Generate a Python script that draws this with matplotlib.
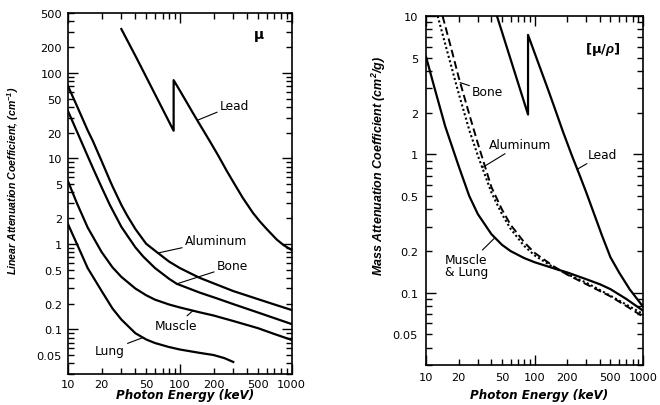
import numpy as np
import matplotlib
matplotlib.use('Agg')
import matplotlib.pyplot as plt

plt.rcParams['font.family'] = ['DejaVu Sans']
plt.rcParams['mathtext.fontset'] = 'custom'
plt.rcParams['mathtext.rm'] = 'Liberation Sans:bold:italic'
plt.rcParams['mathtext.it'] = 'Liberation Sans:bold:italic'
plt.rcParams['mathtext.bf'] = 'Liberation Sans:bold'

# Linear attenuation coefficient (cm^-1), left panel
lead_e = [30, 41, 88, 88, 100, 131, 150, 185, 220, 263, 300, 365, 450, 518, 600, 735, 850, 1000]
lead_mu = [325, 149, 21, 82, 62, 33.8, 25.1, 15.9, 10.8, 7.1, 5.3, 3.45, 2.3, 1.83, 1.48, 1.12, 0.96, 0.845]
al_e = [10, 12, 15, 16.7, 20, 23.7, 25, 30, 33.6, 40, 50, 60, 80, 100, 150, 200, 300, 500, 700, 1000]
al_mu = [70, 41.2, 21.2, 15.9, 9.25, 5.5, 4.7, 2.85, 2.17, 1.49, 1.0, 0.83, 0.62, 0.52, 0.40,
         0.345, 0.28, 0.225, 0.195, 0.168]
bone_e = [10, 12, 15, 16.7, 20, 23.7, 30, 33.6, 40, 47, 60, 80, 94, 150, 214, 300, 500, 700, 1000]
bone_mu = [35.7, 20.7, 10.6, 7.7, 4.57, 2.84, 1.58, 1.27, 0.91, 0.71, 0.52, 0.39, 0.34, 0.269,
           0.23, 0.197, 0.157, 0.135, 0.115]
muscle_e = [10, 12, 15, 20, 25, 30, 40, 50, 60, 80, 100, 150, 200, 300, 500, 700, 1000]
muscle_mu = [5.4, 3.0, 1.55, 0.80, 0.53, 0.41, 0.30, 0.25, 0.222, 0.195, 0.18, 0.158, 0.145,
             0.125, 0.103, 0.088, 0.075]
lung_e = [10, 12, 15, 20, 25, 30, 40, 50, 60, 80, 100, 150, 200, 250, 300]
lung_mu = [1.7, 1.0, 0.52, 0.28, 0.175, 0.13, 0.09, 0.076, 0.069, 0.062, 0.058, 0.053, 0.05,
           0.046, 0.0415]

# Mass attenuation coefficient (cm^2/g), right panel
lead2_e = [45, 87, 87, 100, 130, 150, 183, 220, 263, 300, 419, 500, 600, 750, 1000]
lead2_mr = [10, 1.94, 7.3, 5.41, 3.09, 2.26, 1.45, 0.985, 0.69, 0.527, 0.257, 0.18, 0.14, 0.106, 0.079]
al2_e = [12.8, 15, 20, 25, 30, 40, 50, 60, 80, 100, 150, 200, 300, 500, 700, 1000]
al2_mr = [10, 6.3, 2.75, 1.5, 0.98, 0.53, 0.37, 0.29, 0.218, 0.186, 0.152, 0.136, 0.118, 0.095, 0.082, 0.070]
bone2_e = [14.2, 17, 20, 25, 30, 40, 50, 60, 80, 100, 150, 200, 300, 500, 700, 1000]
bone2_mr = [10, 5.9, 3.6, 1.95, 1.2, 0.58, 0.40, 0.31, 0.232, 0.194, 0.155, 0.135, 0.115, 0.094, 0.08, 0.067]
ml2_e = [10, 12, 15, 20, 25, 30, 40, 50, 60, 80, 100, 150, 200, 300, 400, 500, 700, 1000]
ml2_mr = [5.07, 3.0, 1.6, 0.82, 0.5, 0.37, 0.265, 0.222, 0.2, 0.178, 0.166, 0.15, 0.14, 0.125,
          0.115, 0.106, 0.09, 0.074]

xt_major = [10, 100, 1000]
xt_minor = [20, 30, 40, 50, 60, 70, 80, 90, 200, 300, 400, 500, 600, 700, 800, 900]
xt_minor_lab = ['20', '', '', '50', '', '', '', '', '200', '', '', '500', '', '', '', '']

fig = plt.figure(figsize=(6.6, 4.06), dpi=100)
ax1 = fig.add_axes([0.103, 0.0764, 0.339, 0.889])
ax2 = fig.add_axes([0.6455, 0.0985, 0.329, 0.8596])

lw = 1.6
ax1.plot(lead_e, lead_mu, color='black', lw=lw)
ax1.plot(al_e, al_mu, color='black', lw=lw)
ax1.plot(bone_e, bone_mu, color='black', lw=lw)
ax1.plot(muscle_e, muscle_mu, color='black', lw=lw)
ax1.plot(lung_e, lung_mu, color='black', lw=lw)

ax2.plot(lead2_e, lead2_mr, color='black', lw=lw)
ax2.plot(ml2_e, ml2_mr, color='black', lw=lw)
ax2.plot(al2_e, al2_mr, color='black', lw=1.5, linestyle=(0, (1, 1.2)))
ax2.plot(bone2_e, bone2_mr, color='black', lw=1.4, linestyle=(0, (4, 2)))


def setup(ax, ylim, xpad, ypad):
    ax.set_xscale('log')
    ax.set_yscale('log')
    ax.set_xlim(10, 1000)
    ax.set_ylim(*ylim)
    ax.set_xticks(xt_major, ['10', '100', '1000'])
    ax.set_xticks(xt_minor, xt_minor_lab, minor=True)
    dec = [d for d in [0.01, 0.1, 1, 10, 100, 1000] if ylim[0] <= d <= ylim[1]]
    ax.set_yticks(dec, ['%g' % d for d in dec])
    mins = []
    labs = []
    for d in [0.01, 0.1, 1, 10, 100]:
        for k in range(2, 10):
            v = d * k
            if ylim[0] <= v <= ylim[1] * 1.001:
                mins.append(v)
                labs.append('%g' % v if k in (2, 5) else '')
    ax.set_yticks(mins, labs, minor=True)
    ax.tick_params(which='both', direction='in', top=True, right=True,
                   labelsize=8.2, width=1.0)
    ax.tick_params(which='major', length=7)
    ax.tick_params(which='minor', length=4)
    ax.tick_params(axis='x', which='both', pad=xpad)
    ax.tick_params(axis='y', which='both', pad=ypad)
    for s in ax.spines.values():
        s.set_linewidth(1.2)
    ax.set_xlabel('Photon Energy (keV)', fontsize=8.6, fontweight='bold',
                  fontstyle='italic')


setup(ax1, (0.03, 500), 3.5, 4.3)
setup(ax2, (0.03, 10), 5, 5.8)

ax1.xaxis.set_label_coords(0.522, -0.04)
ax2.xaxis.set_label_coords(0.52, -0.066)

ax1.set_ylabel('Linear Attenuation Coefficient, (cm$^{-1}$)', fontsize=7.6,
               family='Liberation Sans', fontweight='bold', fontstyle='italic')
ax2.set_ylabel('Mass Attenuation Coefficient (cm$^{2}$/g)', fontsize=9,
               family='Liberation Sans', fontweight='bold', fontstyle='italic')
ax1.yaxis.set_label_coords(-0.21, 0.537)
ax2.yaxis.set_label_coords(-0.175, 0.573)

lab = dict(fontsize=8.8, va='center', ha='left')
arr = dict(arrowstyle='-', color='black', lw=0.8, shrinkA=0, shrinkB=0)

ax1.text(507, 284, 'μ', fontsize=10, fontweight='bold', ha='center', va='center')
ax1.annotate('Lead', xy=(145, 28), xytext=(228, 42), arrowprops=arr, **lab)
ax1.annotate('Aluminum', xy=(63.7, 0.78), xytext=(111, 1.1), arrowprops=arr, **lab)
ax1.annotate('Bone', xy=(94, 0.34), xytext=(214, 0.55), arrowprops=arr, **lab)
ax1.annotate('Muscle', xy=(131, 0.165), xytext=(60, 0.112), arrowprops=arr, **lab)
ax1.annotate('Lung', xy=(46.8, 0.08), xytext=(17.4, 0.057), arrowprops=arr, **lab)

ax2.text(428, 5.8, '[μ/$\\rho$]', fontsize=9.5, fontweight='bold', ha='center', va='center')
ax2.annotate('Bone', xy=(20.6, 3.3), xytext=(26.6, 2.84), arrowprops=arr, **lab)
ax2.annotate('Aluminum', xy=(32.8, 0.8), xytext=(38.1, 1.18), arrowprops=arr, **lab)
ax2.annotate('Lead', xy=(247, 0.78), xytext=(311, 1.0), arrowprops=arr, **lab)
ax2.annotate('Muscle\n& Lung', xy=(43.2, 0.25), xytext=(14.96, 0.157),
             arrowprops=arr, linespacing=0.95, **lab)

fig.savefig('out.png', dpi=100)
